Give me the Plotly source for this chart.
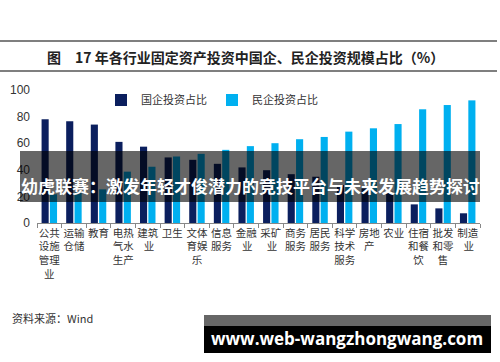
import plotly.graph_objects as go

categories = ["公共设施管理业", "运输仓储", "教育", "电热气水生产", "建筑业", "卫生",
              "文体育娱乐", "信息服务", "金融业", "采矿业", "商务服务", "居民服务",
              "科学技术服务", "房地产", "农业", "住宿和餐饮", "批发和零售", "制造业"]
tick_labels = ["公共<br>设施<br>管理<br>业", "运输<br>仓储", "教育", "电热<br>气水<br>生产",
               "建筑<br> 业", "卫生", "文体<br>育娱<br>乐", "信息<br>服务", "金融<br> 业",
               "采矿<br> 业", "商务<br>服务", "居民<br>服务", "科学<br>技术<br>服务", "房地<br>产",
               "农业", "住宿<br>和餐<br>饮", "批发<br>和零<br>售", "制造<br> 业"]
soe_share = [78, 76.5, 74, 61, 57.4, 49.3, 47.5, 44.5, 41.8, 39.7, 36.7, 34.8,
             28.6, 26, 23.5, 14, 11, 7.3]
private_share = [21.6, 23.0, 25.3, 38.6, 42.3, 50, 52, 55, 57.8, 60, 63, 64.7,
                 68.7, 71.2, 74.4, 85.5, 88.7, 92.2]
y_ticks = [0, 20, 40, 60, 80, 100]

W, H = 500, 362
def px(x):
    return x / W
def py(y):
    return (H - y) / H

fig = go.Figure()
fig.add_trace(go.Bar(x=categories, y=soe_share, name="国企投资占比",
                     marker=dict(color="#0b1f5e", line=dict(width=0))))
fig.add_trace(go.Bar(x=categories, y=private_share, name="民企投资占比",
                     marker=dict(color="#00b0f0", line=dict(width=0))))

serif = "Noto Sans CJK SC, sans-serif"
fig.update_layout(
    width=W, height=H,
    margin=dict(l=0, r=0, t=0, b=0, autoexpand=False),
    paper_bgcolor="white", plot_bgcolor="white",
    barmode="group", bargap=0.32, bargroupgap=0.15,
    showlegend=True,
    legend=dict(orientation="h", x=px(101), y=py(100), xanchor="left", yanchor="middle",
                font=dict(family=serif, size=11, color="#333"),
                bgcolor="rgba(0,0,0,0)", itemwidth=30, traceorder="normal"),
    xaxis=dict(domain=[px(37), px(480)], type="category", automargin=False,
               tickmode="array", tickvals=categories, ticktext=tick_labels,
               tickangle=0, ticks="outside", tickson="boundaries", ticklen=4,
               tickcolor="#888", showline=True, linecolor="#888", linewidth=1,
               tickfont=dict(family=serif, size=10.5, color="#333"),
               showgrid=False, zeroline=False, fixedrange=True),
    yaxis=dict(domain=[py(223), py(90)], range=[0, 100], tickvals=y_ticks,
               automargin=False,
               showgrid=False, zeroline=False, showline=False, ticks="",
               tickfont=dict(family="Liberation Sans, Arial", size=12, color="#333"),
               ticklabelstandoff=6, fixedrange=True),
    font=dict(family=serif),
)

shapes = []
# title rules
for yy in (41, 71):
    shapes.append(dict(type="line", xref="paper", yref="paper", x0=0, x1=px(497),
                       y0=py(yy), y1=py(yy), line=dict(color="#555", width=1.5)))
# overlay band
shapes.append(dict(type="rect", xref="paper", yref="paper", x0=px(20), x1=px(480),
                   y0=py(202), y1=py(151), fillcolor="rgba(0,0,0,0.6)",
                   line=dict(width=0), layer="above"))
# watermark box
shapes.append(dict(type="rect", xref="paper", yref="paper", x0=px(204), x1=px(491),
                   y0=py(326), y1=py(315), fillcolor="#666666", line=dict(width=0),
                   layer="above"))
shapes.append(dict(type="rect", xref="paper", yref="paper", x0=px(204), x1=px(491),
                   y0=py(353), y1=py(326), fillcolor="#000000", line=dict(width=0),
                   layer="above"))
fig.update_layout(shapes=shapes)

ann = []
ann.append(dict(text="<b>图</b>", x=px(45), y=py(57), xref="paper", yref="paper",
                xanchor="left", yanchor="middle", showarrow=False,
                font=dict(family=serif, size=14, color="#222")))
ann.append(dict(text="<b>17 年各行业固定资产投资中国企、民企投资规模占比（%）</b>",
                x=px(73), y=py(57), xref="paper", yref="paper",
                xanchor="left", yanchor="middle", showarrow=False,
                font=dict(family=serif, size=14, color="#222")))
ann.append(dict(text="<b>幼虎联赛：激发年轻才俊潜力的竞技平台与未来发展趋势探讨</b>",
                x=px(250), y=py(185), xref="paper", yref="paper",
                xanchor="center", yanchor="middle", showarrow=False,
                font=dict(family=serif, size=17, color="white")))
ann.append(dict(text="资料来源：Wind", x=px(10), y=py(318), xref="paper", yref="paper",
                xanchor="left", yanchor="middle", showarrow=False,
                font=dict(family=serif, size=11, color="#333")))
ann.append(dict(text="<b>www.web-wangzhongwang.com</b>", x=px(347), y=py(338),
                xref="paper", yref="paper", xanchor="center", yanchor="middle",
                showarrow=False, font=dict(family="Open Sans, sans-serif", size=17,
                                           color="white")))
fig.update_layout(annotations=ann)

fig.write_html("out.html", config={"displayModeBar": False},
               post_script="document.body.style.margin='0';document.body.style.overflow='hidden';")
